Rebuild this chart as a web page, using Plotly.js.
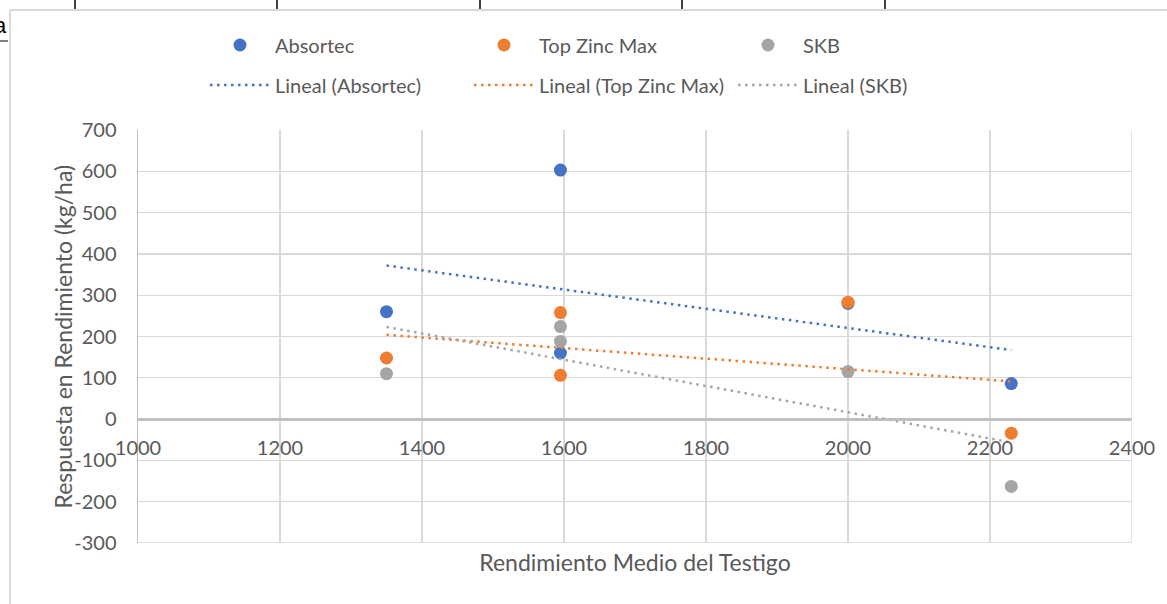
<!DOCTYPE html>
<html>
<head>
<meta charset="utf-8">
<script src="https://cdn.plot.ly/plotly-3.0.1.min.js"></script>
<style>html,body{margin:0;padding:0;background:#fff;}#chart{width:1167px;height:604px;}</style>
</head>
<body>
<div id="chart"></div>
<script>
// ---- data ----
const seriesNames = ['Absortec', 'Top Zinc Max', 'SKB'];
const trendNames = ['Lineal (Absortec)', 'Lineal (Top Zinc Max)', 'Lineal (SKB)'];
const testigo = [1350, 1595, 1595, 2000, 2230];           // Rendimiento Medio del Testigo
const absortec = [260, 603, 160, 280, 86];
const topZincMax = [148, 258, 106, 283, -34];
const skb = [110, 224, 188, 115, -163];
const colors = ['#4472C4', '#ED7D31', '#A5A5A5'];
const xTickVals = [1000, 1200, 1400, 1600, 1800, 2000, 2200, 2400];
const yTickVals = [-300, -200, -100, 0, 100, 200, 300, 400, 500, 600, 700];
const xTitle = 'Rendimiento Medio del Testigo';
const yTitle = 'Respuesta en Rendimiento (kg/ha)';

const allY = [absortec, topZincMax, skb];

// least squares trend line (Excel "Lineal" trendline)
function linfit(xs, ys) {
  const n = xs.length;
  const mx = xs.reduce((a, b) => a + b, 0) / n;
  const my = ys.reduce((a, b) => a + b, 0) / n;
  let sxy = 0, sxx = 0;
  for (let i = 0; i < n; i++) { sxy += (xs[i] - mx) * (ys[i] - my); sxx += (xs[i] - mx) ** 2; }
  const b = sxy / sxx, a = my - b * mx;
  const x0 = Math.min(...xs), x1 = Math.max(...xs);
  return { x: [x0, x1], y: [a + b * x0, a + b * x1] };
}

const font = 'Lato, "Open Sans", sans-serif';
const txt = '#595959';
const grid = '#d9d9d9';
const traces = [];
allY.forEach((ys, i) => {
  traces.push({
    type: 'scatter', mode: 'markers', name: seriesNames[i],
    x: testigo, y: ys, legend: 'legend',
    marker: { color: colors[i], size: 13 },
    cliponaxis: false
  });
});
allY.forEach((ys, i) => {
  const f = linfit(testigo, ys);
  traces.push({
    type: 'scatter', mode: 'lines', name: trendNames[i],
    x: f.x, y: f.y, legend: 'legend2',
    line: { color: colors[i], width: 2.5, dash: '2.5px,4.5px' }
  });
});

const xMin = xTickVals[0], xMax = xTickVals[xTickVals.length - 1];
const yMin = yTickVals[0], yMax = yTickVals[yTickVals.length - 1];
const zeroPos = (0 - yMin) / (yMax - yMin);

// decoration helpers (convert page pixels to paper fraction)
const L = 138, R = 35, T = 130, B = 61, W = 1167, H = 604;
const pw = W - L - R, ph = H - T - B;
const px = v => (v - L) / pw;
const py = v => (H - B - v) / ph;

const shapes = [
  // plot-area outer gridlines at the range ends
  { type: 'line', xref: 'x', yref: 'paper', x0: xMax, x1: xMax, y0: 0, y1: 1, line: { color: grid, width: 1.3 } },
  { type: 'line', xref: 'paper', yref: 'y', x0: 0, x1: 1, y0: yMin, y1: yMin, line: { color: grid, width: 1.3 } },
  // chart-area border and page fragments around it
  { type: 'line', xref: 'paper', yref: 'paper', x0: px(10), x1: px(1167), y0: py(10), y1: py(10), line: { color: grid, width: 2 } },
  { type: 'line', xref: 'paper', yref: 'paper', x0: px(10), x1: px(10), y0: py(10), y1: py(604), line: { color: grid, width: 2 } },
  { type: 'line', xref: 'paper', yref: 'paper', x0: px(0), x1: px(8), y0: py(41), y1: py(41), line: { color: '#000', width: 1 } }
];
[75, 277, 480, 682, 885].forEach(v => shapes.push({
  type: 'line', xref: 'paper', yref: 'paper', x0: px(v), x1: px(v), y0: py(0), y1: py(9), line: { color: '#000', width: 1.5 }
}));

const legendCommon = {
  orientation: 'h', xanchor: 'left', yanchor: 'middle',
  itemwidth: 60, entrywidth: 189, bgcolor: 'rgba(0,0,0,0)',
  font: { family: font, size: 20, color: txt }, itemclick: false, itemdoubleclick: false
};

const layout = {
  width: W, height: H,
  margin: { l: L, r: R, t: T, b: B },
  paper_bgcolor: '#fff', plot_bgcolor: '#fff',
  font: { family: font, color: txt, size: 20 },
  showlegend: true,
  xaxis: {
    range: [xMin, xMax],
    tickvals: xTickVals, ticktext: xTickVals.map(String),
    showgrid: true, gridcolor: grid, gridwidth: 1.3,
    zeroline: false, showline: true, linecolor: '#bfbfbf', linewidth: 1.5,
    ticks: '', anchor: 'free', position: zeroPos, ticklabelstandoff: 10,
    tickfont: { family: font, size: 20, color: txt },
    title: { text: xTitle, font: { family: font, size: 23, color: txt }, standoff: 97 },
    automargin: false, fixedrange: true
  },
  yaxis: {
    range: [yMin, yMax],
    tickvals: yTickVals, ticktext: yTickVals.map(v => v < 0 ? '-' + Math.abs(v) : String(v)),
    showgrid: true, gridcolor: grid, gridwidth: 1.3,
    zeroline: true, zerolinecolor: '#bfbfbf', zerolinewidth: 1.5,
    showline: true, linecolor: '#bfbfbf', linewidth: 1.5,
    ticks: '', ticklabelstandoff: 16,
    tickfont: { family: font, size: 20, color: txt },
    automargin: false, fixedrange: true
  },
  legend: Object.assign({}, legendCommon, { x: px(205), y: py(45) }),
  legend2: Object.assign({}, legendCommon, { x: px(205), y: py(85) }),
  shapes: shapes,
  annotations: [
    { xref: 'paper', yref: 'paper', x: px(62), y: 0.5, xanchor: 'center', yanchor: 'middle', textangle: -90,
      text: yTitle, showarrow: false, font: { family: font, size: 23, color: txt } },
    { xref: 'paper', yref: 'paper', x: px(9), y: py(25), xanchor: 'right', yanchor: 'middle', text: 'a', showarrow: false,
      font: { family: 'Liberation Sans, sans-serif', size: 22, color: '#000' } }
  ]
};

Plotly.newPlot('chart', traces, layout, { displayModeBar: false, staticPlot: true });
</script>
</body>
</html>
